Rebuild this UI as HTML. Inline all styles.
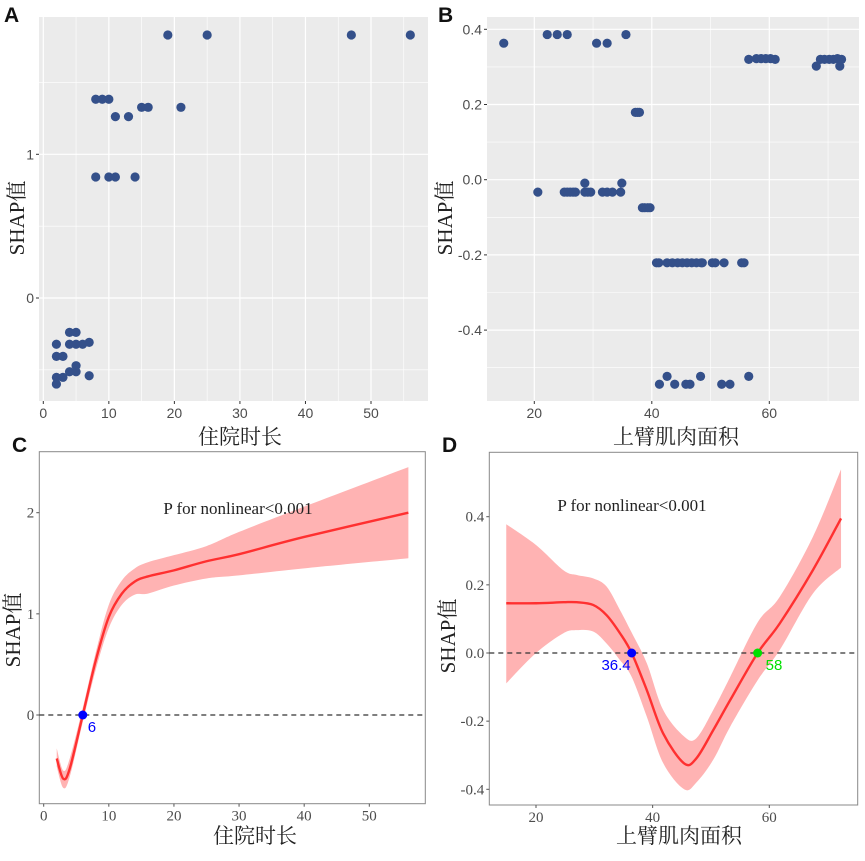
<!DOCTYPE html>
<html><head><meta charset="utf-8">
<style>
body{margin:0;background:#fff;}
svg{display:block;}
.tk{font-family:"Liberation Sans","Noto Sans CJK SC",sans-serif;font-size:14px;fill:#4d4d4d;}
.tks{font-family:"Liberation Serif","Noto Serif CJK SC",serif;font-size:15px;fill:#4d4d4d;}
.ttl{font-family:"Liberation Serif","Noto Serif CJK SC",serif;font-size:21px;fill:#222;}
.pl{font-family:"Liberation Sans",sans-serif;font-size:21px;font-weight:bold;fill:#111;}
</style></head>
<body>
<svg id="fig" width="865" height="861" xmlns="http://www.w3.org/2000/svg"></svg>
<script>
// Panel A data
const aX=[19,25,47,56,8,9,10,15,16,21,11,13,8,10,11,14,4,5,2,4,5,6,7,2,3,5,4,5,7,2,3,2];
const aY=[1.83,1.83,1.83,1.83,1.383,1.383,1.383,1.327,1.327,1.327,1.262,1.262,0.842,0.842,0.842,0.842,-0.239,-0.239,-0.322,-0.322,-0.322,-0.322,-0.309,-0.406,-0.406,-0.471,-0.513,-0.513,-0.541,-0.552,-0.552,-0.599];
const aXTicks=[0,10,20,30,40,50];
const aYTicks=[0,1];
// Panel B data
const bX=[14.8,22.2,23.9,25.6,35.6,30.6,32.4,56.5,57.8,58.6,59.4,60.2,61,68.7,69.4,70.2,70.9,71.6,72.3,68,72,37.2,37.6,37.9,20.6,25.1,25.6,26.1,26.6,27,28.6,29.1,29.6,31.6,32.4,33.3,34.7,28.6,34.9,38.4,38.8,39.3,39.7,40.8,41.2,42.6,43.5,44.4,45.2,46,46.8,47.6,48.4,48.6,50.3,50.8,52.3,55.3,55.7,42.6,48.3,56.5,41.3,43.9,45.8,46.5,51.9,53.3];
const bY=[0.363,0.386,0.386,0.386,0.386,0.363,0.363,0.32,0.322,0.322,0.322,0.322,0.32,0.32,0.32,0.32,0.32,0.322,0.32,0.302,0.302,0.179,0.179,0.179,-0.033,-0.033,-0.033,-0.033,-0.033,-0.033,-0.033,-0.033,-0.033,-0.033,-0.033,-0.033,-0.033,-0.009,-0.009,-0.0745,-0.0745,-0.0745,-0.0745,-0.221,-0.221,-0.221,-0.221,-0.221,-0.221,-0.221,-0.221,-0.221,-0.221,-0.221,-0.221,-0.221,-0.221,-0.221,-0.221,-0.523,-0.523,-0.523,-0.544,-0.544,-0.544,-0.544,-0.544,-0.544];
const bXTicks=[20,40,60];
const bYTicks=[-0.4,-0.2,0,0.2,0.4];
const bYLabels=["-0.4","-0.2","0.0","0.2","0.4"];
// Panel C data
const cX=[2,3,4,6,8,10,12,14,16,20,25,30,40,56];
const cMid=[-0.43,-0.63,-0.53,0,0.54,0.97,1.2,1.32,1.37,1.43,1.52,1.59,1.76,2.0];
const cLo=[-0.51,-0.72,-0.61,-0.07,0.45,0.86,1.09,1.19,1.2,1.28,1.35,1.38,1.45,1.55];
const cHi=[-0.33,-0.55,-0.43,0.07,0.62,1.09,1.33,1.45,1.51,1.58,1.67,1.81,2.06,2.45];
const cXTicks=[0,10,20,30,40,50];
const cYTicks=[0,1,2];
// Panel D data
const dX=[14.9,20,24.7,27,29.8,32.1,34.4,36.4,39,41.8,45.4,47.5,50.4,53.3,58,61.8,67.5,72.3];
const dMid=[0.146,0.146,0.149,0.149,0.141,0.111,0.058,0,-0.109,-0.236,-0.324,-0.309,-0.226,-0.138,0,0.087,0.244,0.395];
const dLo=[-0.089,0.0,0.058,0.067,0.063,0.028,-0.021,-0.07,-0.187,-0.323,-0.4,-0.38,-0.313,-0.216,-0.08,0.009,0.175,0.251];
const dHi=[0.378,0.317,0.243,0.229,0.219,0.195,0.126,0.06,-0.03,-0.167,-0.245,-0.25,-0.167,-0.07,0.09,0.165,0.342,0.539];
const dXTicks=[20,40,60];
const dYTicks=[-0.4,-0.2,0,0.2,0.4];
const dYLabels=["-0.4","-0.2","0.0","0.2","0.4"];

const NS="http://www.w3.org/2000/svg";
const svg=document.getElementById('fig');
function mk(tag,attrs,parent){const e=document.createElementNS(NS,tag);for(const k in attrs)e.setAttribute(k,attrs[k]);(parent||svg).appendChild(e);return e;}
function txt(x,y,s,cls,anchor,parent,extra){const t=mk('text',Object.assign({x:x,y:y,class:cls,'text-anchor':anchor||'middle'},extra||{}),parent);t.textContent=s;return t;}
function lin(d0,d1,r0,r1){return v=>r0+(v-d0)*(r1-r0)/(d1-d0);}
// smooth path (Catmull-Rom) through points; returns segment string without leading M
function smooth(pts){let s='';for(let i=0;i<pts.length-1;i++){const p0=pts[Math.max(0,i-1)],p1=pts[i],p2=pts[i+1],p3=pts[Math.min(pts.length-1,i+2)];const c1=[p1[0]+(p2[0]-p0[0])/6,p1[1]+(p2[1]-p0[1])/6],c2=[p2[0]-(p3[0]-p1[0])/6,p2[1]-(p3[1]-p1[1])/6];s+=' C'+c1[0]+','+c1[1]+' '+c2[0]+','+c2[1]+' '+p2[0]+','+p2[1];}return s;}

// ---------- Panel A ----------
(function(){
const g=mk('g',{});


const L=39,R=428,T=17,B=401;
const xs=lin(0,50,43.3,371),ys=lin(0,1,298,154.3);
const bg=mk('rect',{x:L,y:T,width:R-L,height:B-T,fill:'#ebebeb'},g);


[5,15,25,35,45,55].forEach(v=>mk('line',{x1:xs(v),x2:xs(v),y1:T,y2:B,stroke:'#fff','stroke-width':0.6},g));
[-0.5,0.5,1.5].forEach(v=>mk('line',{x1:L,x2:R,y1:ys(v),y2:ys(v),stroke:'#fff','stroke-width':0.6},g));
aXTicks.forEach(v=>{mk('line',{x1:xs(v),x2:xs(v),y1:T,y2:B,stroke:'#fff','stroke-width':1.2},g);mk('line',{x1:xs(v),x2:xs(v),y1:B,y2:B+3,stroke:'#333'},g);const t=txt(xs(v),B+17,String(v),'tk','middle',g);});
aYTicks.forEach(v=>{mk('line',{x1:L,x2:R,y1:ys(v),y2:ys(v),stroke:'#fff','stroke-width':1.2},g);mk('line',{x1:L-3,x2:L,y1:ys(v),y2:ys(v),stroke:'#333'},g);const t=txt(L-5,ys(v)+5,String(v),'tk','end',g);});
aX.forEach((x,i)=>{const c=mk('circle',{cx:xs(x),cy:ys(aY[i]),r:4.6,fill:'#34508a'},g);});
const xt=txt(240,444,'住院时长','ttl','middle',g);
const yt=txt(0,0,'SHAP值','ttl','middle',g,{transform:'translate(24,218) rotate(-90)'});
const pl=txt(4,22,'A','pl','start',g);
})();

// ---------- Panel B ----------
(function(){
const g=mk('g',{});


const L=487,R=859,T=17,B=401;
const xs=lin(20,60,534.3,769.3),ys=lin(0,0.4,179.7,29.3);
const bg=mk('rect',{x:L,y:T,width:R-L,height:B-T,fill:'#ebebeb'},g);


[30,50,70].forEach(v=>mk('line',{x1:xs(v),x2:xs(v),y1:T,y2:B,stroke:'#fff','stroke-width':0.6},g));
[-0.5,-0.3,-0.1,0.1,0.3].forEach(v=>mk('line',{x1:L,x2:R,y1:ys(v),y2:ys(v),stroke:'#fff','stroke-width':0.6},g));
bXTicks.forEach(v=>{mk('line',{x1:xs(v),x2:xs(v),y1:T,y2:B,stroke:'#fff','stroke-width':1.2},g);mk('line',{x1:xs(v),x2:xs(v),y1:B,y2:B+3,stroke:'#333'},g);const t=txt(xs(v),B+17,String(v),'tk','middle',g);});
bYTicks.forEach((v,i)=>{mk('line',{x1:L,x2:R,y1:ys(v),y2:ys(v),stroke:'#fff','stroke-width':1.2},g);mk('line',{x1:L-3,x2:L,y1:ys(v),y2:ys(v),stroke:'#333'},g);const t=txt(L-5,ys(v)+5,bYLabels[i],'tk','end',g);});
bX.forEach((x,i)=>{const c=mk('circle',{cx:xs(x),cy:ys(bY[i]),r:4.6,fill:'#34508a'},g);});
const xt=txt(676,444,'上臂肌肉面积','ttl','middle',g);
const yt=txt(0,0,'SHAP值','ttl','middle',g,{transform:'translate(452,218) rotate(-90)'});
const pl=txt(438,22,'B','pl','start',g);
})();

function rcs(g,L,R,T,B,xs,ys,X,M,Lo,Hi,xt,yt,ylab){
 mk('rect',{x:L,y:T,width:R-L,height:B-T,fill:'#fff',stroke:'#888','stroke-width':1},g);
 const hi=X.map((x,i)=>[xs(x),ys(Hi[i])]);
 const lo=X.map((x,i)=>[xs(x),ys(Lo[i])]).reverse();
 const d='M'+hi[0][0]+','+hi[0][1]+smooth(hi)+' L'+lo[0][0]+','+lo[0][1]+smooth(lo)+'Z';
 const band=mk('path',{d:d,fill:'#ffb3b3'},g);
 
 
 const mp=X.map((x,i)=>[xs(x),ys(M[i])]);
 const ln=mk('path',{d:'M'+mp[0][0]+','+mp[0][1]+smooth(mp),fill:'none',stroke:'#ff3030','stroke-width':2.4,'stroke-linejoin':'round'},g);
 
 
 const ref=mk('line',{x1:L,x2:R,y1:ys(0),y2:ys(0),stroke:'#333','stroke-width':1.2,'stroke-dasharray':'5,4'},g);
 
 
 xt.forEach(v=>{mk('line',{x1:xs(v),x2:xs(v),y1:B,y2:B+3,stroke:'#555'},g);const t=txt(xs(v),B+17,String(v),'tks','middle',g);});
 yt.forEach((v,i)=>{mk('line',{x1:L-3,x2:L,y1:ys(v),y2:ys(v),stroke:'#555'},g);const t=txt(L-5,ys(v)+5,ylab[i],'tks','end',g);});
}

// ---------- Panel C ----------
(function(){
const g=mk('g',{});


const L=39.3,R=425.3,T=451.7,B=803.7;
const xs=lin(0,50,43.7,369.3),ys=lin(0,2,715,512.7);
rcs(g,L,R,T,B,xs,ys,cX,cMid,cLo,cHi,cXTicks,cYTicks,cYTicks.map(String));
const p=mk('circle',{cx:xs(6),cy:ys(0),r:4.5,fill:'#0000ff'},g);
const lb=txt(xs(6)+5,ys(0)+17,'6','tk','start',g,{style:'fill:#0000ff;font-size:15px'});
const an=txt(238,514,'P for nonlinear<0.001','ttl','middle',g,{style:'font-size:17px'});
const xt=txt(255,843,'住院时长','ttl','middle',g);
const yt=txt(0,0,'SHAP值','ttl','middle',g,{transform:'translate(20,630) rotate(-90)'});
const pl=txt(12,452,'C','pl','start',g);
})();

// ---------- Panel D ----------
(function(){
const g=mk('g',{});


const L=489.3,R=857.7,T=452.3,B=805;
const xs=lin(20,60,536,769.3),ys=lin(0,0.4,653,516.7);
rcs(g,L,R,T,B,xs,ys,dX,dMid,dLo,dHi,dXTicks,dYTicks,dYLabels);
const p1=mk('circle',{cx:xs(36.4),cy:ys(0),r:4.5,fill:'#0000ff'},g);
const l1=txt(xs(36.4)-1,ys(0)+17,'36.4','tk','end',g,{style:'fill:#0000ff;font-size:15px'});
const p2=mk('circle',{cx:xs(58),cy:ys(0),r:4.5,fill:'#00e000'},g);
const l2=txt(xs(58)+8,ys(0)+17,'58','tk','start',g,{style:'fill:#00e000;font-size:15px'});
const an=txt(632,511,'P for nonlinear<0.001','ttl','middle',g,{style:'font-size:17px'});
const xt=txt(679,843,'上臂肌肉面积','ttl','middle',g);
const yt=txt(0,0,'SHAP值','ttl','middle',g,{transform:'translate(455,636) rotate(-90)'});
const pl=txt(442,452,'D','pl','start',g);
})();
</script>
</body></html>
